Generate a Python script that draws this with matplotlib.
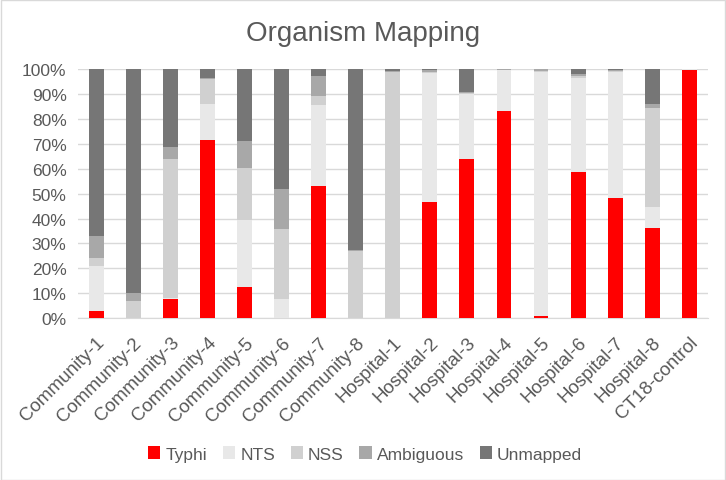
import matplotlib.pyplot as plt
import numpy as np

samples = ['Community-1', 'Community-2', 'Community-3', 'Community-4', 'Community-5',
           'Community-6', 'Community-7', 'Community-8', 'Hospital-1', 'Hospital-2',
           'Hospital-3', 'Hospital-4', 'Hospital-5', 'Hospital-6', 'Hospital-7',
           'Hospital-8', 'CT18-control']

# percent of reads per category
typhi     = [2.8, 0.0, 7.8, 71.5, 12.7, 0.0, 53.2, 0.0, 0.0, 46.8, 63.9, 83.0, 1.1, 58.6, 48.4, 36.1, 99.6]
nts       = [18.3, 0.0, 0.4, 14.5, 26.9, 7.8, 32.4, 0.0, 0.0, 51.5, 26.1, 16.5, 97.6, 37.7, 50.3, 8.7, 0.1]
nss       = [3.1, 6.8, 55.7, 9.7, 20.7, 28.0, 3.4, 27.1, 98.5, 0.4, 0.2, 0.1, 0.5, 0.8, 0.4, 39.6, 0.1]
ambiguous = [9.0, 3.4, 4.7, 0.7, 10.7, 16.1, 8.1, 0.1, 0.5, 0.6, 0.4, 0.2, 0.5, 0.8, 0.5, 1.6, 0.1]
unmapped  = [66.8, 89.8, 31.4, 3.6, 29.0, 48.1, 2.9, 72.8, 1.0, 0.7, 9.4, 0.2, 0.3, 2.1, 0.4, 14.0, 0.1]

series = [('Typhi', typhi, '#ff0000'),
          ('NTS', nts, '#e8e8e8'),
          ('NSS', nss, '#d0d0d0'),
          ('Ambiguous', ambiguous, '#a8a8a8'),
          ('Unmapped', unmapped, '#767676')]

plt.rcParams['font.family'] = ['Liberation Sans', 'DejaVu Sans']
text_col = '#595959'

fig = plt.figure(figsize=(7.26, 4.81), dpi=100)
ax = fig.add_axes([0.107, 0.336, 0.868, 0.519])

x = np.arange(len(samples))
bottom = np.zeros(len(samples))
for name, vals, col in series:
    v = np.array(vals) / 100.0
    ax.bar(x, v, width=0.4, bottom=bottom, color=col, label=name, zorder=3)
    bottom += v

ax.set_xlim(-0.5, len(samples) - 0.5)
ax.set_ylim(0, 1)
ax.set_yticks(np.arange(0, 1.01, 0.1))
ax.set_yticklabels([f'{int(round(t * 100))}%' for t in np.arange(0, 1.01, 0.1)])
ax.yaxis.grid(True, color='#d9d9d9', linewidth=1, zorder=0)
ax.set_xticks(x)
ax.set_xticklabels(samples, rotation=45, ha='right', rotation_mode='anchor')
for s in ax.spines.values():
    s.set_visible(False)
ax.spines['bottom'].set_visible(True)
ax.spines['bottom'].set_color('#d9d9d9')
ax.tick_params(length=0, colors=text_col, labelsize=12.5, pad=8)
ax.tick_params(axis='x', labelsize=13.5, pad=11)

fig.text(0.5, 0.93, 'Organism Mapping', ha='center', va='center', fontsize=20, color=text_col)

ax.legend(loc='center', bbox_to_anchor=(0.503, 0.054), bbox_transform=fig.transFigure,
          ncol=5, frameon=False, fontsize=12.5, labelcolor=text_col,
          handlelength=0.7, handleheight=0.7, handletextpad=0.3, columnspacing=0.9)

fig.patches.append(plt.Rectangle((0.001, 0.001), 0.998, 0.997, transform=fig.transFigure,
                                 fill=False, edgecolor='#d9d9d9', linewidth=1))

fig.savefig('out.png', dpi=100)
